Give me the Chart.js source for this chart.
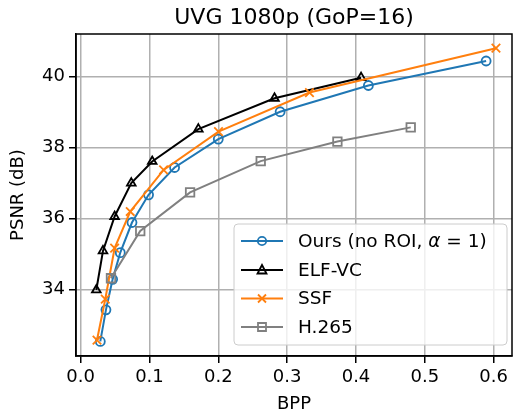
<!DOCTYPE html>
<html lang="en">
<head>
    <meta charset="UTF-8">
    <title>UVG 1080p (GoP=16)</title>
    <script src="https://cdn.jsdelivr.net/npm/chart.js"></script>
    <style>
        body { margin: 0; background: #fff; }
        canvas { display: block; }
    </style>
</head>
<body>
    <canvas id="rdChart" width="514" height="415"></canvas>

    <script>
        // values
        var oursBpp = [0.0286, 0.0368, 0.0465, 0.0576, 0.0746, 0.0987, 0.1365, 0.2000, 0.2898, 0.4180, 0.5890];
        var oursPsnr = [32.54, 33.43, 34.29, 35.04, 35.89, 36.67, 37.44, 38.24, 39.01, 39.75, 40.44];

        var elfBpp = [0.0228, 0.0325, 0.0494, 0.0736, 0.1040, 0.1710, 0.2816, 0.4074];
        var elfPsnr = [33.99, 35.09, 36.06, 37.00, 37.61, 38.52, 39.39, 39.97];

        var ssfBpp = [0.0238, 0.0358, 0.0494, 0.0721, 0.1205, 0.2003, 0.3324, 0.6033];
        var ssfPsnr = [32.58, 33.73, 35.17, 36.20, 37.37, 38.45, 39.55, 40.80];

        var h265Bpp = [0.0441, 0.0866, 0.1590, 0.2616, 0.3730, 0.4795];
        var h265Psnr = [34.32, 35.65, 36.74, 37.62, 38.17, 38.57];

        var xTicks = [0.0, 0.1, 0.2, 0.3, 0.4, 0.5, 0.6];
        var yTicks = [34, 36, 38, 40];

        var FONT = "'DejaVu Sans', sans-serif";

        function pts(xs, ys) {
            return xs.map(function (x, i) { return { x: x, y: ys[i] }; });
        }

        var series = [
            { label: 'Ours', color: '#1f77b4', marker: 'circle', r: 4.5, xs: oursBpp, ys: oursPsnr, order: 4 },
            { label: 'ELF-VC', color: '#000000', marker: 'triangle', r: 5, xs: elfBpp, ys: elfPsnr, order: 3 },
            { label: 'SSF', color: '#ff7f0e', marker: 'crossRot', r: 6, xs: ssfBpp, ys: ssfPsnr, order: 2 },
            { label: 'H.265', color: '#808080', marker: 'rect', r: 6, xs: h265Bpp, ys: h265Psnr, order: 1 }
        ];

        var datasets = series.map(function (s) {
            return {
                label: s.label,
                data: pts(s.xs, s.ys),
                borderColor: s.color,
                borderWidth: 2,
                pointStyle: s.marker,
                pointRadius: s.r,
                pointBorderWidth: 1.8,
                pointBorderColor: s.color,
                pointBackgroundColor: 'rgba(0,0,0,0)',
                fill: false,
                tension: 0,
                order: s.order
            };
        });

        function drawMarker(ctx, type, x, y, color) {
            ctx.save();
            ctx.strokeStyle = color;
            ctx.lineWidth = 1.8;
            ctx.beginPath();
            if (type === 'circle') {
                ctx.arc(x, y, 4.2, 0, Math.PI * 2);
            } else if (type === 'triangle') {
                ctx.moveTo(x, y - 5);
                ctx.lineTo(x + 4.5, y + 3.5);
                ctx.lineTo(x - 4.5, y + 3.5);
                ctx.closePath();
            } else if (type === 'crossRot') {
                ctx.moveTo(x - 4, y - 4); ctx.lineTo(x + 4, y + 4);
                ctx.moveTo(x + 4, y - 4); ctx.lineTo(x - 4, y + 4);
            } else {
                ctx.rect(x - 4, y - 4, 8, 8);
            }
            ctx.stroke();
            ctx.restore();
        }

        var decorPlugin = {
            id: 'decor',
            afterDraw: function (chart) {
                var ctx = chart.ctx;
                var a = chart.chartArea;

                // frame
                ctx.save();
                ctx.strokeStyle = '#000';
                ctx.lineWidth = 1.5;
                ctx.strokeRect(a.left, a.top, a.right - a.left, a.bottom - a.top);

                // title
                ctx.fillStyle = '#000';
                ctx.font = '22px ' + FONT;
                ctx.textAlign = 'center';
                ctx.textBaseline = 'alphabetic';
                ctx.fillText('UVG 1080p (GoP=16)', (a.left + a.right) / 2, 24);

                // legend box
                var bx = 234, by = 224, bw = 273, bh = 121, rad = 4;
                ctx.beginPath();
                ctx.moveTo(bx + rad, by);
                ctx.arcTo(bx + bw, by, bx + bw, by + bh, rad);
                ctx.arcTo(bx + bw, by + bh, bx, by + bh, rad);
                ctx.arcTo(bx, by + bh, bx, by, rad);
                ctx.arcTo(bx, by, bx + bw, by, rad);
                ctx.closePath();
                ctx.fillStyle = 'rgba(255,255,255,0.8)';
                ctx.fill();
                ctx.strokeStyle = '#cccccc';
                ctx.lineWidth = 1;
                ctx.stroke();

                var rows = [241, 270, 298.5, 327];
                ctx.textAlign = 'left';
                ctx.textBaseline = 'middle';
                series.forEach(function (s, i) {
                    var y = rows[i];
                    ctx.strokeStyle = s.color;
                    ctx.lineWidth = 2;
                    ctx.beginPath();
                    ctx.moveTo(241, y);
                    ctx.lineTo(283, y);
                    ctx.stroke();
                    drawMarker(ctx, s.marker, 262, y, s.color);

                    ctx.fillStyle = '#000';
                    var tx = 298;
                    if (i === 0) {
                        var parts = [['Ours (no ROI, ', ''], ['\u03b1', 'italic '], [' = 1)', '']];
                        parts.forEach(function (p) {
                            ctx.font = p[1] + '18.5px ' + FONT;
                            ctx.fillText(p[0], tx, y + 1);
                            tx += ctx.measureText(p[0]).width;
                        });
                    } else {
                        ctx.font = '18.5px ' + FONT;
                        ctx.fillText(s.label, tx, y + 1);
                    }
                });
                ctx.restore();
            }
        };

        function axisCommon(ticks, fmt, title, fitFn) {
            return {
                type: 'linear',
                afterBuildTicks: function (scale) {
                    scale.ticks = ticks.map(function (v) { return { value: v }; });
                },
                afterFit: fitFn,
                ticks: {
                    callback: fmt,
                    color: '#000',
                    font: { size: 18, family: FONT },
                    autoSkip: false,
                    maxRotation: 0,
                    padding: 4
                },
                grid: {
                    color: '#b0b0b0',
                    lineWidth: 1.5,
                    tickColor: '#000',
                    tickLength: 7,
                    tickWidth: 1.5
                },
                border: { color: '#000', width: 1.5 },
                title: {
                    display: true,
                    text: title,
                    color: '#000',
                    font: { size: 18, family: FONT },
                    padding: 0
                }
            };
        }

        var xAxis = axisCommon(xTicks, function (v) { return Number(v).toFixed(1); }, 'BPP',
            function (scale) {
                scale.height = 59;
                scale.paddingLeft = 0;
                scale.paddingRight = 0;
            });
        xAxis.min = -0.0067;
        xAxis.max = 0.6266;

        var yAxis = axisCommon(yTicks, function (v) { return String(v); }, 'PSNR (dB)',
            function (scale) {
                scale.width = 76;
                scale.paddingTop = 0;
                scale.paddingBottom = 0;
            });
        yAxis.min = 32.13;
        yAxis.max = 41.2;
        yAxis.title.padding = { top: 8, bottom: 0 };

        new Chart(document.getElementById('rdChart').getContext('2d'), {
            type: 'line',
            data: { datasets: datasets },
            options: {
                responsive: false,
                devicePixelRatio: 1,
                animation: false,
                layout: {
                    autoPadding: false,
                    padding: { top: 34, right: 2, left: 0, bottom: 0 }
                },
                plugins: {
                    legend: { display: false },
                    tooltip: { enabled: false },
                    title: { display: false }
                },
                scales: { x: xAxis, y: yAxis }
            },
            plugins: [decorPlugin]
        });
    </script>
</body>
</html>
